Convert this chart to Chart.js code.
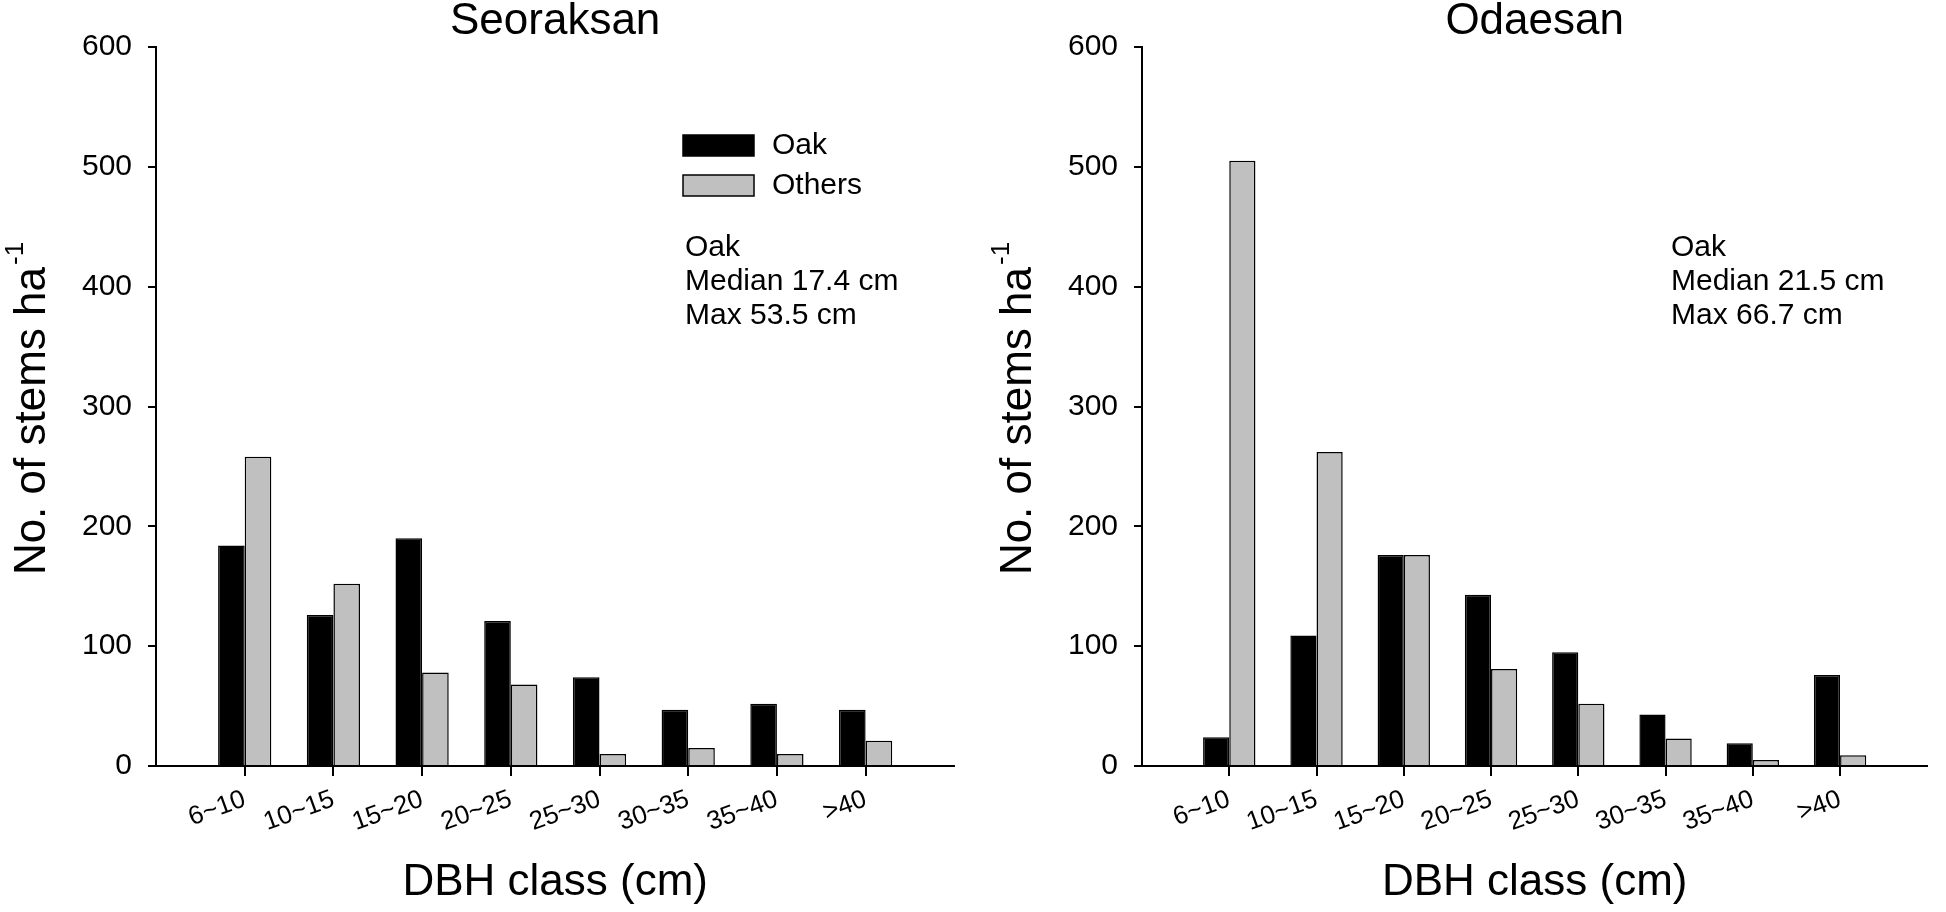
<!DOCTYPE html>
<html>
<head>
<meta charset="utf-8">
<script src="https://cdn.jsdelivr.net/npm/chart.js@4.4.1/dist/chart.umd.min.js"></script>
<style>
    html, body { margin: 0; padding: 0; background: #fff; }
    #wrap { position: relative; width: 1946px; height: 912px; }
    canvas { position: absolute; top: 0; }
    #left { left: 0; }
    #right { left: 973px; }
</style>
</head>
<body>
<div id="wrap">
    <canvas id="left" width="973" height="912"></canvas>
    <canvas id="right" width="973" height="912"></canvas>
</div>
<script>
// DBH classes and stem densities
const dbhClasses = ['6~10', '10~15', '15~20', '20~25', '25~30', '30~35', '35~40', '>40'];
const seoraksanOak = [184, 126, 190, 121, 74, 47, 52, 47];
const seoraksanOthers = [258, 152, 78, 68, 10, 15, 10, 21];
const odaesanOak = [24, 109, 176, 143, 95, 43, 19, 76];
const odaesanOthers = [505, 262, 176, 81, 52, 23, 5, 9];
const yTicks = [0, 100, 200, 300, 400, 500, 600];

const seoraksanNote = ['Oak', 'Median 17.4 cm', 'Max 53.5 cm'];
const odaesanNote = ['Oak', 'Median 21.5 cm', 'Max 66.7 cm'];

const FONT = "'Liberation Sans', Arial, Helvetica, sans-serif";
Chart.defaults.color = '#000';
Chart.defaults.font.family = FONT;

// pad the axis with an empty slot on each side, like the original plot
const labels = ['', ...dbhClasses, ''];
const padded = arr => [null, ...arr, null];
const hideEnds = ctx => (ctx.index === 0 || ctx.index === labels.length - 1) ? 'rgba(0,0,0,0)' : '#000';

// y-axis title with a raised "-1"
const yTitlePlugin = {
    id: 'yTitle',
    afterDraw(chart) {
        const ctx = chart.ctx;
        const area = chart.chartArea;
        const main = 'No. of stems ha';
        const sup = '-1';
        ctx.save();
        ctx.font = '44px ' + FONT;
        const wMain = ctx.measureText(main).width;
        ctx.font = '26px ' + FONT;
        const wSup = ctx.measureText(sup).width;
        const total = wMain + wSup + 2;
        ctx.translate(area.left - 111, (area.top + area.bottom) / 2 + 2);
        ctx.rotate(-Math.PI / 2);
        ctx.fillStyle = '#000';
        ctx.textBaseline = 'alphabetic';
        ctx.textAlign = 'left';
        ctx.font = '44px ' + FONT;
        ctx.fillText(main, -total / 2, 0);
        ctx.font = '26px ' + FONT;
        ctx.fillText(sup, -total / 2 + wMain + 2, -22);
        ctx.restore();
    }
};

// legend boxes and the median / max note
const notesPlugin = {
    id: 'notes',
    afterDraw(chart, args, opts) {
        const ctx = chart.ctx;
        const area = chart.chartArea;
        ctx.save();
        ctx.font = '30px ' + FONT;
        ctx.fillStyle = '#000';
        if (opts.legend) {
            chart.data.datasets.forEach((ds, i) => {
                const bx = area.left + 527;
                const by = area.top + 88 + i * 40;
                ctx.fillStyle = ds.backgroundColor;
                ctx.fillRect(bx, by, 71, 21);
                ctx.lineWidth = 1.5;
                ctx.strokeStyle = '#000';
                ctx.strokeRect(bx, by, 71, 21);
                ctx.fillStyle = '#000';
                ctx.textBaseline = 'middle';
                ctx.fillText(ds.label, bx + 89, by + 11);
            });
        }
        ctx.textBaseline = 'alphabetic';
        (opts.lines || []).forEach((line, i) => {
            ctx.fillText(line, area.left + 529, area.top + 209 + i * 34);
        });
        ctx.restore();
    }
};

function makeChart(id, title, oak, others, note, showLegend, padLeft, padRight) {
    const ctx = document.getElementById(id).getContext('2d');
    return new Chart(ctx, {
        type: 'bar',
        data: {
            labels: labels,
            datasets: [{
                label: 'Oak',
                data: padded(oak),
                backgroundColor: '#000000',
                borderColor: '#000000',
                borderWidth: 1.5
            }, {
                label: 'Others',
                data: padded(others),
                backgroundColor: '#c0c0c0',
                borderColor: '#000000',
                borderWidth: 1.5
            }]
        },
        options: {
            responsive: false,
            animation: false,
            devicePixelRatio: 1,
            categoryPercentage: 0.6,
            barPercentage: 1.0,
            layout: { padding: { left: padLeft, right: padRight, top: 0, bottom: 0 } },
            plugins: {
                legend: { display: false },
                tooltip: { enabled: false },
                title: {
                    display: true,
                    text: title,
                    fullSize: false,
                    color: '#000',
                    font: { size: 44, weight: 'normal', lineHeight: 1 },
                    padding: { top: 0, bottom: 3 }
                },
                notes: { legend: showLegend, lines: note }
            },
            scales: {
                x: {
                    type: 'category',
                    offset: false,
                    afterFit: scale => { scale.height = 146; },
                    grid: {
                        offset: false,
                        drawOnChartArea: false,
                        drawTicks: true,
                        tickLength: 10,
                        lineWidth: 2,
                        color: hideEnds
                    },
                    border: { display: true, color: '#000', width: 2 },
                    ticks: {
                        autoSkip: false,
                        minRotation: 20,
                        maxRotation: 20,
                        padding: 8,
                        color: '#000',
                        font: { size: 26 }
                    },
                    title: {
                        display: true,
                        text: 'DBH class (cm)',
                        color: '#000',
                        font: { size: 44, lineHeight: 1 },
                        padding: { top: 0, bottom: 7 }
                    }
                },
                y: {
                    min: 0,
                    max: 600,
                    afterFit: scale => { scale.width = 100; },
                    afterBuildTicks: scale => { scale.ticks = yTicks.map(v => ({ value: v })); },
                    grid: {
                        drawOnChartArea: false,
                        drawTicks: true,
                        tickLength: 8,
                        lineWidth: 2,
                        color: '#000'
                    },
                    border: { display: true, color: '#000', width: 2 },
                    ticks: {
                        padding: 16,
                        color: '#000',
                        font: { size: 30 }
                    }
                }
            }
        },
        plugins: [yTitlePlugin, notesPlugin]
    });
}

makeChart('left', 'Seoraksan', seoraksanOak, seoraksanOthers, seoraksanNote, true, 56, 14);
makeChart('right', 'Odaesan', odaesanOak, odaesanOthers, odaesanNote, false, 69, 3);
</script>
</body>
</html>
